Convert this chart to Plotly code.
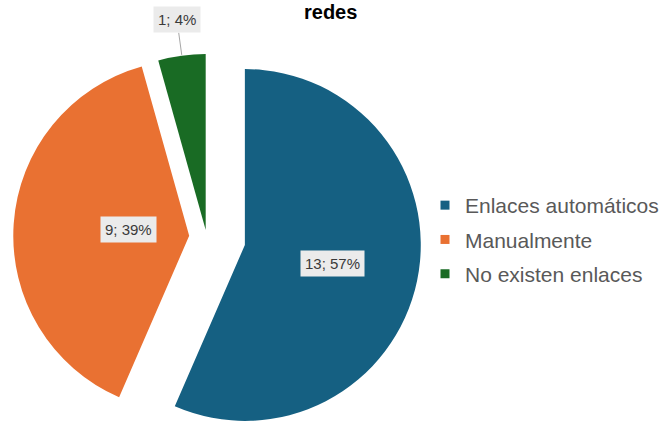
import math
import plotly.graph_objects as go

# ---- data ----
categories = ["Enlaces automáticos", "Manualmente", "No existen enlaces"]
counts = [13, 9, 1]
colors = ["#156082", "#E97132", "#196B24"]
title_text = "redes"

# ---- layout constants (pixels) ----
W, H = 664, 423
pie_center = (207.6, 237.0)      # common centre before exploding
radius = 176.7
explode_px = [39.2, 17.6, 7.1]   # how far each slice is pulled out
label_pos = [0.51, 0.51, 1.2]    # label distance along bisector (fraction of radius)
label_outside = [False, False, True]

total = sum(counts)
fig = go.Figure()

def px_to_paper(x, y):
    return x / W, 1 - y / H

annotations = []
start = 0.0
for i, (cat, v) in enumerate(zip(categories, counts)):
    frac = v / total
    mid = (start + frac / 2) * 2 * math.pi           # clockwise from 12 o'clock
    dx, dy = math.sin(mid), -math.cos(mid)
    vx = pie_center[0] + explode_px[i] * dx
    vy = pie_center[1] + explode_px[i] * dy

    # one pie per slice, only that slice opaque, positioned at its exploded vertex
    slice_colors = ["rgba(0,0,0,0)"] * len(counts)
    slice_colors[i] = colors[i]
    fig.add_trace(go.Pie(
        labels=categories, values=counts, sort=False, direction="clockwise",
        rotation=0, textinfo="none", hoverinfo="skip", showlegend=False,
        marker=dict(colors=slice_colors, line=dict(width=0)),
        domain=dict(
            x=[max(0, (vx - radius) / W), min(1, (vx + radius) / W)],
            y=[max(0, 1 - (vy + radius) / H), min(1, 1 - (vy - radius) / H)],
        ),
    ))

    pct = round(frac * 100)
    text = f"{v}; {pct}%"
    lx = vx + label_pos[i] * radius * dx
    ly = vy + label_pos[i] * radius * dy
    ann = dict(
        text=text, font=dict(family="Liberation Sans", size=15, color="#3A3A3A"),
        bgcolor="#EBEBEB", borderpad=4, xref="paper", yref="paper",
    )
    if label_outside[i]:
        ex = vx + radius * dx
        ey = vy + radius * dy
        px, py = px_to_paper(ex, ey)
        ann.update(x=px, y=py, showarrow=True, arrowhead=0, arrowwidth=1,
                   arrowcolor="#A6A6A6", ax=lx - ex, ay=ly - ey, standoff=0)
    else:
        px, py = px_to_paper(lx, ly)
        ann.update(x=px, y=py, showarrow=False)
    annotations.append(ann)
    start += frac

# legend entries with square markers
for i, cat in enumerate(categories):
    fig.add_trace(go.Scatter(
        x=[None], y=[None], mode="markers", name=cat, legendgroup=cat,
        marker=dict(symbol="square", size=9, color=colors[i]),
    ))

tx, _ = px_to_paper(331.7, 0)
annotations.append(dict(
    text=f"<b>{title_text}</b>", x=tx, y=1, xref="paper", yref="paper",
    xanchor="center", yanchor="top", showarrow=False, borderpad=0,
    font=dict(family="Liberation Sans", size=20, color="#000000"),
))

fig.update_layout(
    width=W, height=H,
    margin=dict(l=0, r=0, t=0, b=0),
    paper_bgcolor="white", plot_bgcolor="white",
    xaxis=dict(visible=False), yaxis=dict(visible=False),
    annotations=annotations,
    legend=dict(
        x=427 / W, y=1 - 185 / H, xanchor="left", yanchor="top",
        font=dict(family="Liberation Sans", size=21, color="#595959"),
        tracegroupgap=4, bgcolor="rgba(0,0,0,0)",
    ),
)

fig.write_html("out.html")
